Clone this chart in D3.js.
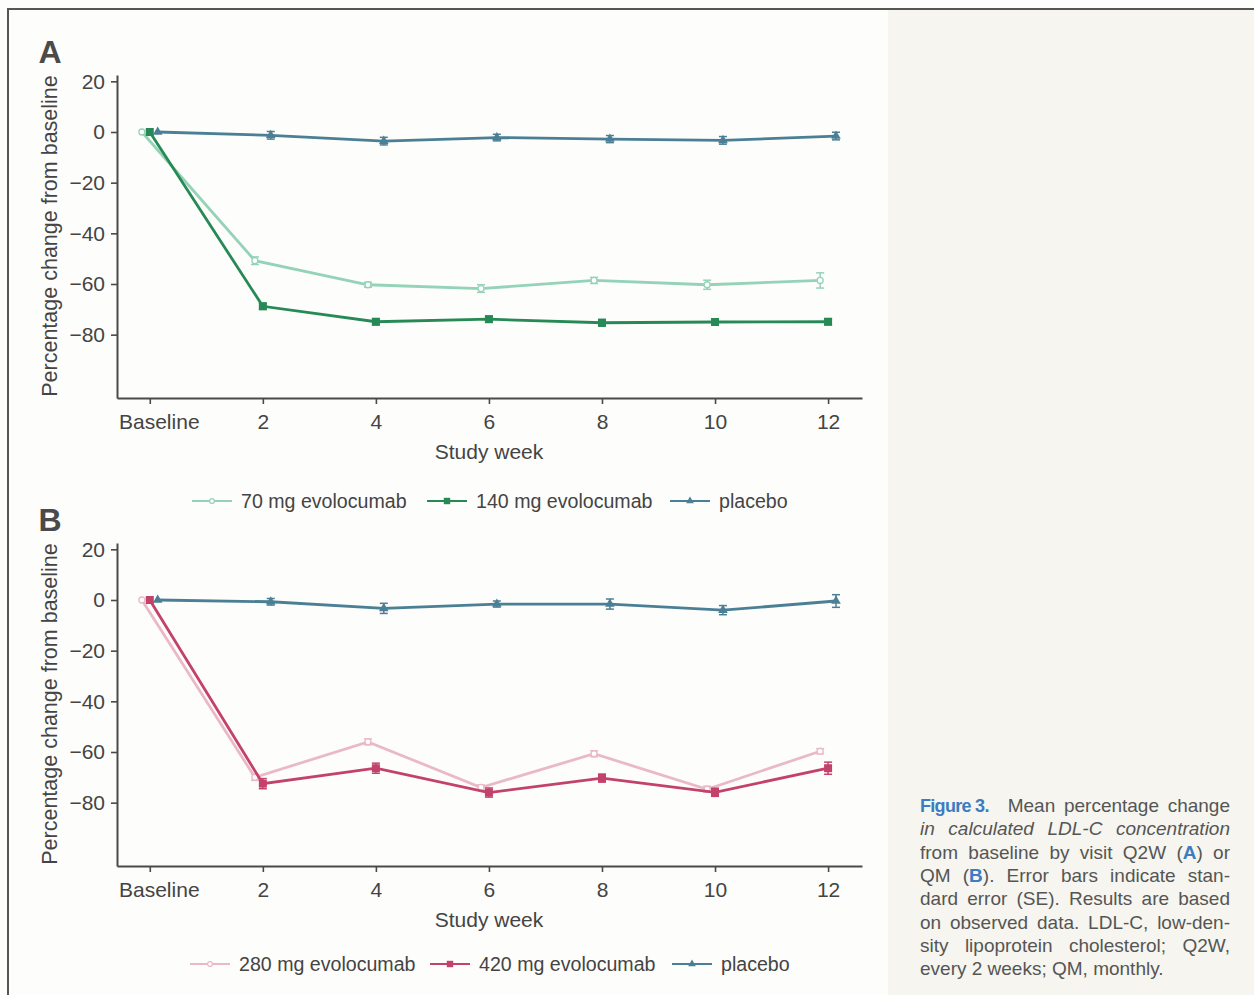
<!DOCTYPE html>
<html>
<head>
<meta charset="utf-8">
<script src="https://cdn.jsdelivr.net/npm/d3@7"></script>
<style>
  html, body { margin: 0; padding: 0; background: #fdfdfb; }
  svg { display: block; font-family: "Liberation Sans", Arial, sans-serif; }
</style>
</head>
<body>
<svg id="chart" width="1254" height="995"></svg>
<script>
// study weeks (0 = baseline)
const weeks = [0, 2, 4, 6, 8, 10, 12];
const yTicks = [20, 0, -20, -40, -60, -80];

// panel A: Q2W
const mean70 = [0, -50.8, -60.3, -61.8, -58.6, -60.3, -58.6];
const se70 = [0, 1.5, 1.0, 1.5, 1.2, 1.8, 3.0];
const mean140 = [0, -68.8, -74.9, -73.9, -75.3, -75.0, -74.9];
const se140 = [0, 1.2, 1.2, 1.2, 1.3, 1.2, 1.2];
const placeboA = [0, -1.3, -3.6, -2.2, -2.8, -3.3, -1.6];
const sePlaceboA = [0, 1.5, 1.5, 1.3, 1.4, 1.5, 1.5];

// panel B: QM
const mean280 = [0, -70.0, -56.0, -74.0, -60.7, -74.7, -59.7];
const se280 = [0, 1.2, 1.2, 1.0, 1.2, 1.2, 1.0];
const mean420 = [0, -72.5, -66.4, -76.0, -70.3, -75.9, -66.4];
const se420 = [0, 2.0, 2.0, 1.8, 1.6, 1.6, 2.4];
const placeboB = [0, -0.7, -3.3, -1.6, -1.6, -4.0, -0.4];
const sePlaceboB = [0, 1.3, 2.0, 1.2, 2.0, 1.8, 2.5];

const colors = {
  c70: "#94d3b7", c140: "#278a56", placebo: "#4b7f95",
  c280: "#eab9c8", c420: "#c3426a"
};

const svg = d3.select("#chart");

// page background and frame
svg.append("rect").attr("x", 888).attr("y", 10).attr("width", 366).attr("height", 985).attr("fill", "#f6f5ef");
svg.append("line").attr("x1", 7).attr("x2", 1254).attr("y1", 9).attr("y2", 9).attr("stroke", "#555").attr("stroke-width", 2);
svg.append("line").attr("x1", 8).attr("x2", 8).attr("y1", 8).attr("y2", 995).attr("stroke", "#555").attr("stroke-width", 2);

const x = d3.scaleLinear().domain([-0.58, 12.6]).range([117, 862]);
const offset = 0.14; // horizontal dodge between series

function drawPanel(opts) {
  const y = d3.scaleLinear().domain([-105, 22.5]).range([opts.bottom, opts.bottom - 323]);
  const g = svg.append("g");

  const yAxis = g.append("g").attr("transform", "translate(117,0)")
    .call(d3.axisLeft(y).tickValues(yTicks).tickSize(6).tickSizeOuter(0).tickPadding(6));
  const xAxis = g.append("g").attr("transform", `translate(0,${opts.bottom})`)
    .call(d3.axisBottom(x).tickValues(weeks).tickSize(6).tickSizeOuter(0).tickPadding(10)
      .tickFormat(d => d === 0 ? "Baseline" : d));
  [yAxis, xAxis].forEach(a => {
    a.select(".domain").attr("stroke", "#4a4a4a").attr("stroke-width", 2);
    a.selectAll(".tick line").attr("stroke", "#4a4a4a").attr("stroke-width", 1.6);
    a.selectAll(".tick text").attr("fill", "#444").style("font-size", "21px");
  });
  xAxis.selectAll(".tick text").filter(d => d === 0).attr("dx", 9);

  g.append("text").attr("transform", `translate(57,${opts.bottom - 162}) rotate(-90)`)
    .attr("text-anchor", "middle").attr("fill", "#444").style("font-size", "21.5px")
    .text("Percentage change from baseline");
  g.append("text").attr("x", 489).attr("y", opts.bottom + 61)
    .attr("text-anchor", "middle").attr("fill", "#444").style("font-size", "21px")
    .text("Study week");
  g.append("text").attr("x", 50).attr("y", opts.bottom - 335)
    .attr("text-anchor", "middle").attr("fill", "#4a4a4a")
    .style("font-size", "32px").style("font-weight", "bold").text(opts.letter);

  opts.series.forEach(s => {
    const pts = weeks.map((w, i) => ({ x: x(w + s.dx), y: y(s.mean[i]), lo: y(s.mean[i] - s.se[i]), hi: y(s.mean[i] + s.se[i]), se: s.se[i] }));
    g.append("path").datum(pts)
      .attr("d", d3.line().x(d => d.x).y(d => d.y))
      .attr("fill", "none").attr("stroke", s.color).attr("stroke-width", 2.8);
    const eb = g.append("g").attr("stroke", s.color).attr("stroke-width", 1.5);
    pts.filter(d => d.se > 0).forEach(d => {
      eb.append("line").attr("x1", d.x).attr("x2", d.x).attr("y1", d.lo).attr("y2", d.hi);
      eb.append("line").attr("x1", d.x - 4).attr("x2", d.x + 4).attr("y1", d.lo).attr("y2", d.lo);
      eb.append("line").attr("x1", d.x - 4).attr("x2", d.x + 4).attr("y1", d.hi).attr("y2", d.hi);
    });
    drawMarkers(g, pts, s);
  });

  // legend
  const lg = g.append("g").attr("transform", `translate(0,${opts.legendY})`);
  opts.series.forEach(s => {
    lg.append("line").attr("x1", s.lx).attr("x2", s.lx + 40).attr("y1", 0).attr("y2", 0)
      .attr("stroke", s.color).attr("stroke-width", 2);
    drawMarkers(lg, [{ x: s.lx + 20, y: 0 }], s, 0.8);
    lg.append("text").attr("x", s.lx + 49).attr("y", 7).attr("fill", "#444")
      .style("font-size", "19.6px").text(s.name);
  });
}

function drawMarkers(g, pts, s, k = 1) {
  if (s.shape === "circle") {
    g.selectAll(null).data(pts).enter().append("circle")
      .attr("cx", d => d.x).attr("cy", d => d.y).attr("r", 3 * k)
      .attr("fill", "#fff").attr("stroke", s.color).attr("stroke-width", 1.3);
  } else if (s.shape === "square") {
    g.selectAll(null).data(pts).enter().append("rect")
      .attr("x", d => d.x - 4 * k).attr("y", d => d.y - 4 * k)
      .attr("width", 8 * k).attr("height", 8 * k).attr("fill", s.color);
  } else {
    g.selectAll(null).data(pts).enter().append("path")
      .attr("transform", d => `translate(${d.x},${d.y})`)
      .attr("d", d3.symbol(d3.symbolTriangle, 40 * k * k)).attr("fill", s.color);
  }
}

drawPanel({
  letter: "A", bottom: 398, legendY: 501,
  series: [
    { name: "70 mg evolocumab", mean: mean70, se: se70, color: colors.c70, shape: "circle", dx: -offset, lx: 192 },
    { name: "140 mg evolocumab", mean: mean140, se: se140, color: colors.c140, shape: "square", dx: 0, lx: 427 },
    { name: "placebo", mean: placeboA, se: sePlaceboA, color: colors.placebo, shape: "triangle", dx: offset, lx: 670 }
  ]
});

drawPanel({
  letter: "B", bottom: 866, legendY: 964,
  series: [
    { name: "280 mg evolocumab", mean: mean280, se: se280, color: colors.c280, shape: "circle", dx: -offset, lx: 190 },
    { name: "420 mg evolocumab", mean: mean420, se: se420, color: colors.c420, shape: "square", dx: 0, lx: 430 },
    { name: "placebo", mean: placeboB, se: sePlaceboB, color: colors.placebo, shape: "triangle", dx: offset, lx: 672 }
  ]
});

// caption, justified line by line
const blue = "#3b7cc2";
const captionLines = [
  [["Figure 3.", "f"], ["Mean percentage change", "g"]],
  [["in calculated LDL-C concentration", "i"]],
  [["from baseline by visit Q2W (", ""], ["A", "b"], [") or", ""]],
  [["QM (", ""], ["B", "b"], ["). Error bars indicate stan-", ""]],
  [["dard error (SE). Results are based", ""]],
  [["on observed data. LDL-C, low-den-", ""]],
  [["sity lipoprotein cholesterol; Q2W,", ""]],
  [["every 2 weeks; QM, monthly.", ""]]
];
const cap = svg.append("g");
captionLines.forEach((parts, i) => {
  const t = cap.append("text").attr("x", 920).attr("y", 812 + i * 23.3)
    .attr("fill", "#555").style("font-size", "19px");
  let fixedSpaces = 0;
  parts.forEach(([str, st]) => {
    const sp = t.append("tspan").text(str);
    if (st === "b") sp.attr("fill", blue).style("font-weight", "bold");
    if (st === "f") {
      sp.attr("fill", blue).style("font-weight", "bold").style("font-size", "18px")
        .style("letter-spacing", "-0.7px").style("word-spacing", "0px");
      fixedSpaces += (str.match(/ /g) || []).length;
    }
    if (st === "g") sp.attr("dx", 19);
    if (st === "i") sp.style("font-style", "italic");
  });
  if (i < captionLines.length - 1) {
    const full = parts.map(p => p[0]).join("");
    const spaces = (full.match(/ /g) || []).length - fixedSpaces;
    const w = t.node().getComputedTextLength() + (i === 0 ? 19 : 0);
    if (spaces > 0) t.style("word-spacing", ((1230 - 920 - w) / spaces) + "px");
  }
});
</script>
</body>
</html>
